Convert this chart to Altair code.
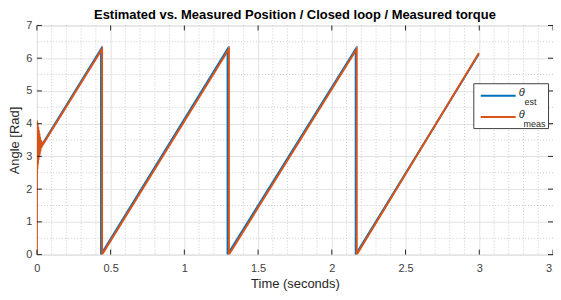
import altair as alt
import pandas as pd

# ---- data ----
est_t = [0.000, 0.040, 0.435, 0.435, 1.293, 1.293, 2.162, 2.162, 2.996]
est_y = [3.30, 3.39, 6.28, 0.00, 6.28, 0.00, 6.28, 0.00, 6.12]

meas_t = [0.000, 0.001, 0.003, 0.005, 0.007, 0.009, 0.011, 0.013, 0.015, 0.017,
          0.019, 0.021, 0.024, 0.027, 0.030, 0.034, 0.040, 0.442, 0.442, 1.302,
          1.302, 2.169, 2.169, 2.998]
meas_y = [0.00, 4.10, 2.60, 4.00, 2.75, 3.90, 2.90, 3.80, 3.00, 3.70,
          3.05, 3.60, 3.15, 3.50, 3.25, 3.45, 3.36, 6.28, 0.00, 6.28,
          0.00, 6.28, 0.00, 6.16]

x_ticks = [0, 0.5, 1, 1.5, 2, 2.5, 3, 3.5]
y_ticks = [0, 1, 2, 3, 4, 5, 6, 7]
x_minor = [round(i * 0.1, 1) for i in range(36) if i % 5 != 0]
y_minor = [i + 0.5 for i in range(7)]

series = ["est", "meas"]
colors = ["#0072BD", "#D95319"]
title_text = "Estimated vs. Measured Position / Closed loop / Measured torque"

W, H = 518, 230
FONT = "Liberation Sans"

rows = []
for i, (t, y) in enumerate(zip(est_t, est_y)):
    rows.append({"t": t, "y": y, "s": "est", "i": i})
for i, (t, y) in enumerate(zip(meas_t, meas_y)):
    rows.append({"t": t, "y": y, "s": "meas", "i": i})
df = pd.DataFrame(rows)

xscale = alt.Scale(domain=[0, 3.5], nice=False, zero=False)
yscale = alt.Scale(domain=[0, 7], nice=False, zero=False)

xaxis = alt.Axis(values=x_ticks, title="Time (seconds)", grid=True,
                 gridColor="#e2e2e2", gridWidth=1, domain=False, ticks=False,
                 labelFontSize=11, labelColor="#404040", labelFont=FONT,
                 labelPadding=8, titleFontSize=13, titleFont=FONT,
                 titleFontWeight="normal", titleColor="#262626", titlePadding=4,
                 labelFlush=False, format="~g")
yaxis = alt.Axis(values=y_ticks, title="Angle [Rad]", grid=True,
                 gridColor="#e2e2e2", gridWidth=1, domain=False, ticks=False,
                 labelFontSize=11, labelColor="#404040", labelFont=FONT,
                 labelPadding=5, titleFontSize=13, titleFont=FONT,
                 titleFontWeight="normal", titleColor="#262626", titlePadding=4,
                 labelFlush=False, format="~g")

minor_x = alt.Chart(pd.DataFrame({"t": x_minor})).mark_rule(
    color="#cccccc", strokeDash=[1, 2], strokeWidth=1).encode(
    x=alt.X("t:Q", scale=xscale, axis=xaxis))
minor_y = alt.Chart(pd.DataFrame({"y": y_minor})).mark_rule(
    color="#cccccc", strokeDash=[1, 2], strokeWidth=1).encode(
    y=alt.Y("y:Q", scale=yscale, axis=yaxis))

lines = alt.Chart(df).mark_line(strokeWidth=2, clip=True).encode(
    x=alt.X("t:Q", scale=xscale, axis=xaxis),
    y=alt.Y("y:Q", scale=yscale, axis=yaxis),
    color=alt.Color("s:N", scale=alt.Scale(domain=series, range=colors), legend=None),
    order=alt.Order("i:Q"),
)

tick_col = "#262626"
xt = pd.DataFrame({"t": x_ticks})
yt = pd.DataFrame({"y": y_ticks})
tick_b = alt.Chart(xt).mark_rule(color=tick_col).encode(
    x=alt.X("t:Q", scale=xscale, axis=xaxis), y=alt.value(H), y2=alt.value(H - 5))
tick_t = alt.Chart(xt).mark_rule(color=tick_col).encode(
    x=alt.X("t:Q", scale=xscale, axis=xaxis), y=alt.value(0), y2=alt.value(5))
tick_l = alt.Chart(yt).mark_rule(color=tick_col).encode(
    y=alt.Y("y:Q", scale=yscale, axis=yaxis), x=alt.value(0), x2=alt.value(5))
tick_r = alt.Chart(yt).mark_rule(color=tick_col).encode(
    y=alt.Y("y:Q", scale=yscale, axis=yaxis), x=alt.value(W), x2=alt.value(W - 5))

# ---- custom legend (θ with subscripts) ----
one = pd.DataFrame({"a": [0]})
lg_box = alt.Chart(one).mark_rect(fill="white", stroke="#404040", strokeWidth=1).encode(
    x=alt.value(438.5), x2=alt.value(513.5), y=alt.value(58.5), y2=alt.value(103.5))
lg_l1 = alt.Chart(one).mark_rule(color=colors[0], strokeWidth=2).encode(
    x=alt.value(445.5), x2=alt.value(480.5), y=alt.value(70.5))
lg_l2 = alt.Chart(one).mark_rule(color=colors[1], strokeWidth=2).encode(
    x=alt.value(445.5), x2=alt.value(480.5), y=alt.value(92))
th_kw = dict(font=FONT, fontSize=11, fontStyle="italic", color="#262626",
             align="left", baseline="middle")
sub_kw = dict(font=FONT, fontSize=9, color="#262626", align="left", baseline="middle")
lg_t1 = alt.Chart(one).mark_text(**th_kw).encode(
    x=alt.value(483.5), y=alt.value(67.5), text=alt.value("θ"))
lg_s1 = alt.Chart(one).mark_text(**sub_kw).encode(
    x=alt.value(489.5), y=alt.value(76.5), text=alt.value("est"))
lg_t2 = alt.Chart(one).mark_text(**th_kw).encode(
    x=alt.value(483.5), y=alt.value(90), text=alt.value("θ"))
lg_s2 = alt.Chart(one).mark_text(**sub_kw).encode(
    x=alt.value(488.5), y=alt.value(98.5), text=alt.value("meas"))

chart = alt.layer(
    minor_x, minor_y, lines, tick_b, tick_t, tick_l, tick_r,
    lg_box, lg_l1, lg_l2, lg_t1, lg_s1, lg_t2, lg_s2,
).properties(
    width=W, height=H,
    title=alt.TitleParams(title_text, font=FONT, fontSize=13, fontWeight="bold",
                          color="#000000", anchor="middle", offset=-3),
    autosize=alt.AutoSizeParams(type="none"),
    padding={"left": 29, "top": 17, "right": 0, "bottom": 37},
).configure_view(stroke="#262626", strokeWidth=1).configure(background="white")

chart.save("out.html", embed_options={"renderer": "svg", "actions": False})
